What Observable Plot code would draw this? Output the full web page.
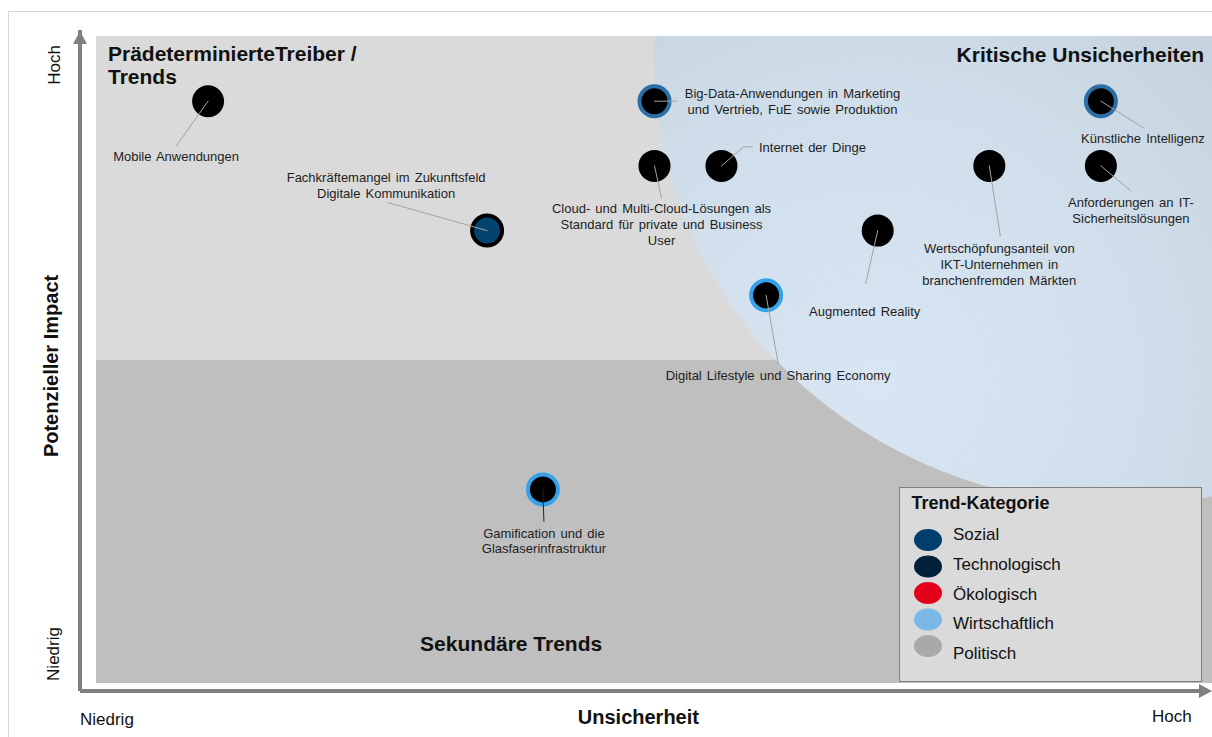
<!DOCTYPE html>
<html><head><meta charset="utf-8">
<script src="https://cdn.jsdelivr.net/npm/d3@7"></script>
<script src="https://cdn.jsdelivr.net/npm/@observablehq/plot@0.6"></script>
<style>html,body{margin:0;padding:0;background:#fff;overflow:hidden}</style>
</head><body><div id="chart"></div>
<script>
// ---------- data ----------
const trends = [
  "Mobile Anwendungen",
  "Fachkräftemangel im Zukunftsfeld\nDigitale Kommunikation",
  "Big-Data-Anwendungen in Marketing\nund Vertrieb, FuE sowie Produktion",
  "Cloud- und Multi-Cloud-Lösungen als\nStandard für private und Business\nUser",
  "Internet der Dinge",
  "Künstliche Intelligenz",
  "Anforderungen an IT-\nSicherheitslösungen",
  "Wertschöpfungsanteil von\nIKT-Unternehmen in\nbranchenfremden Märkten",
  "Augmented Reality",
  "Digital Lifestyle und Sharing Economy",
  "Gamification und die\nGlasfaserinfrastruktur"
];
const uncertainty = [10, 35, 50, 50, 56, 90, 90, 80, 70, 60, 40];
const impact      = [90, 70, 90, 80, 80, 90, 80, 80, 70, 60, 30];
const coreCategory = ["Technologisch","Sozial","Technologisch","Technologisch","Technologisch","Technologisch","Technologisch","Technologisch","Technologisch","Technologisch","Technologisch"];
const ringCategory = [null,"Technologisch","Sozial",null,null,"Sozial",null,null,null,"Wirtschaftlich","Wirtschaftlich"];
const legendTitle = "Trend-Kategorie";
const legendCategories = ["Sozial","Technologisch","Ökologisch","Wirtschaftlich","Politisch"];
const quadrantTitles = ["PrädeterminierteTreiber /\nTrends", "Kritische Unsicherheiten", "Sekundäre Trends"];
const xAxisTitle = "Unsicherheit", yAxisTitle = "Potenzieller Impact";
const lowLabel = "Niedrig", highLabel = "Hoch";

// ---------- styles ----------
const coreColor = {Sozial:"#04426f", Technologisch:"#000000"};
const ringColor = {Sozial:"#2c6ea6", Technologisch:"#000000", Wirtschaftlich:"#36a0ea"};
const legendColor = {Sozial:"#003e6c", Technologisch:"#00203a", "Ökologisch":"#e2001a", Wirtschaftlich:"#7bb8e5", Politisch:"#a9a9a9"};
const FONT = "'Liberation Sans', Arial, Helvetica, sans-serif";

// ---------- layout (pixel offsets of labels / leader lines from each dot) ----------
const labelOffset = [[-32,55],[-101,-46],[138,0],[7,58],[91,-19],[42,37],[30,44],[10,98],[-13,80],[12,80],[1,51]];
const leaderOffset = [
  [[0,0],[-32,45]],
  [[0,0],[-99,-28]],
  [[0,0],[22,0]],
  [[0,0],[7,32]],
  [[0,0],[22,-19],[31,-19]],
  [[0,0],[43,27]],
  [[0,0],[30,25]],
  [[0,0],[11,70]],
  [[0,0],[-12,53]],
  [[0,0],[12,68]],
  [[0,0],[1,32]]
];

const W = 1212, H = 737;
const M = {top:36, right:0, bottom:54, left:96};
const kx = (W - M.left - M.right) / 100, ky = (H - M.top - M.bottom) / 100;

const data = trends.map((t, i) => ({i, label:t, x:uncertainty[i], y:impact[i], core:coreCategory[i], ring:ringCategory[i]}));
const leaders = data.flatMap(d => leaderOffset[d.i].map(([ox, oy]) => ({i:d.i, x:d.x + ox / kx, y:d.y - oy / ky})));

const plot = Plot.plot({
  width: W, height: H,
  marginTop: M.top, marginRight: M.right, marginBottom: M.bottom, marginLeft: M.left,
  x: {domain:[0,100], axis:null},
  y: {domain:[0,100], axis:null},
  color: {type:"identity"},
  style: {fontFamily: FONT, background: "transparent"},
  marks: [
    Plot.dot(data.filter(d => !d.ring), {x:"x", y:"y", r:16, fill: d => coreColor[d.core]}),
    Plot.dot(data.filter(d => d.ring), {x:"x", y:"y", r:15, fill: d => coreColor[d.core], stroke: d => ringColor[d.ring], strokeWidth:4}),
    Plot.line(leaders, {x:"x", y:"y", z:"i", stroke: d => d.i === 10 ? "#222222" : "#a3a3a3", strokeWidth:1}),
    ...data.map(d => Plot.text([d], {x:"x", y:"y", text:"label", dx:labelOffset[d.i][0], dy:labelOffset[d.i][1],
      fontSize:13, lineHeight:1.22, fill:"#1e1e1e", textAnchor:"middle"}))
  ]
});

const xs = plot.scale("x"), ys = plot.scale("y");
const X = v => xs.apply(v), Y = v => ys.apply(v);
const svg = d3.select(plot);
svg.selectAll('g[aria-label="text"] text').style("word-spacing", "1.5px");

// ---------- background (inserted below the marks) ----------
const bg = d3.create("svg:g");
const defs = bg.append("defs");
const grad = defs.append("radialGradient").attr("id","blueZone").attr("gradientUnits","userSpaceOnUse")
  .attr("cx", X(70)).attr("cy", Y(47)).attr("r", 560);
grad.append("stop").attr("offset","0").attr("stop-color","#d7e6f2");
grad.append("stop").attr("offset","0.5").attr("stop-color","#cfdeea");
grad.append("stop").attr("offset","1").attr("stop-color","#c2ced8");
defs.append("clipPath").attr("id","panelClip").append("rect")
  .attr("x", X(0)).attr("y", Y(100)).attr("width", X(100) - X(0)).attr("height", Y(0) - Y(100));

bg.append("rect").attr("x", 8.5).attr("y", 11.5).attr("width", 1400).attr("height", 900)
  .attr("fill","none").attr("stroke","#d6d6d6");
bg.append("rect").attr("x", X(0)).attr("y", Y(100)).attr("width", X(100) - X(0)).attr("height", Y(50) - Y(100)).attr("fill","#dadada");
bg.append("rect").attr("x", X(0)).attr("y", Y(50)).attr("width", X(100) - X(0)).attr("height", Y(0) - Y(50)).attr("fill","#bfbfbf");
bg.append("ellipse").attr("clip-path","url(#panelClip)")
  .attr("cx", X(91.8)).attr("cy", Y(96.3)).attr("rx", 41.8 * kx).attr("ry", 68.8 * ky)
  .attr("fill","url(#blueZone)");
const styleEl = plot.querySelector("style");
plot.insertBefore(bg.node(), styleEl ? styleEl.nextSibling : plot.firstChild);

// ---------- foreground: titles, axes, legend ----------
const fg = svg.append("g").attr("font-family", FONT).attr("text-anchor","start");
const qt = fg.append("g").attr("font-weight","bold").attr("font-size",21).attr("fill","#111");
quadrantTitles[0].split("\n").forEach((line, k) =>
  qt.append("text").attr("x", X(0) + 12).attr("y", Y(100) + 25 + k * 23).text(line));
qt.append("text").attr("x", X(100) - 8).attr("y", Y(100) + 26).attr("text-anchor","end").text(quadrantTitles[1]);
qt.append("text").attr("x", X(37.2)).attr("y", Y(5)).attr("text-anchor","middle").text(quadrantTitles[2]);

// axis arrows
const axisX = X(0) - 16, axisY = Y(0) + 8;
const ax = fg.append("g").attr("fill","#808080").attr("stroke","#808080");
ax.append("path").attr("d", `M${axisX},${axisY} V${Y(100) - 6} M${axisX},${axisY} H${X(100) - 12}`)
  .attr("fill","none").attr("stroke-width",4);
ax.append("path").attr("stroke","none").attr("d", `M${axisX},${Y(100) - 5} l-7,13 h14 z`);
ax.append("path").attr("stroke","none").attr("d", `M${X(100)},${axisY} l-13,-7 v14 z`);

// axis labels
const al = fg.append("g").attr("fill","#111");
al.append("text").attr("transform", `translate(60,${Y(100) + 29}) rotate(-90)`).attr("text-anchor","middle").attr("font-size",17).text(highLabel);
al.append("text").attr("transform", `translate(59,${Y(0) - 29}) rotate(-90)`).attr("text-anchor","middle").attr("font-size",17).text(lowLabel);
al.append("text").attr("transform", `translate(58,${Y(49)}) rotate(-90)`).attr("text-anchor","middle").attr("font-size",20).attr("font-weight","bold").text(yAxisTitle);
al.append("text").attr("x", 80).attr("y", 725).attr("font-size",17).text(lowLabel);
al.append("text").attr("x", 1152).attr("y", 722).attr("font-size",17).text(highLabel);
al.append("text").attr("x", X(48.6)).attr("y", 724).attr("text-anchor","middle").attr("font-size",20).attr("font-weight","bold").text(xAxisTitle);

// legend
const lg = fg.append("g").attr("transform","translate(899.5,487.5)");
lg.append("rect").attr("width",302).attr("height",194).attr("fill","#dadada").attr("stroke","#7f7f7f");
lg.append("text").attr("x",12).attr("y",21.5).attr("font-weight","bold").attr("font-size",18).attr("fill","#111").text(legendTitle);
const swatchY = [52.5, 79, 105.5, 132, 158.5];
const textY = [52.5, 82.5, 112.5, 141.5, 171.5];
legendCategories.forEach((c, k) => {
  lg.append("ellipse").attr("cx",28.5).attr("cy",swatchY[k]).attr("rx",14).attr("ry",11).attr("fill",legendColor[c]);
  lg.append("text").attr("x",53.5).attr("y",textY[k]).attr("font-size",17).attr("fill","#111").text(c);
});

document.getElementById("chart").appendChild(plot);
</script>
</body></html>
